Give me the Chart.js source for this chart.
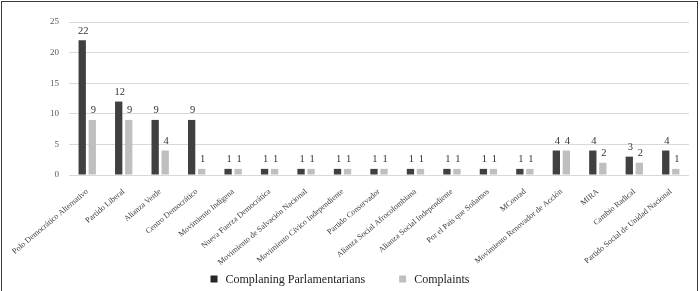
<!DOCTYPE html>
<html>
<head>
<meta charset="utf-8">
<script src="https://cdn.jsdelivr.net/npm/chart.js@4"></script>
<style>
  html, body { margin: 0; padding: 0; background: #fff; }
  #wrap {
    position: relative;
    width: 700px;
    height: 291px;
    overflow: hidden;
  }
  #frame {
    position: absolute;
    left: 1px; top: 1px;
    width: 695px; height: 300px;
    border: 1.5px solid #3a3a3a;
    pointer-events: none;
  }
  canvas { display: block; }
</style>
</head>
<body>
<div id="wrap">
  <canvas id="chart" width="700" height="291"></canvas>
  <div id="frame"></div>
</div>
<script>
// Datos
const parties = [
  "Polo Democrático Alternativo",
  "Partido Liberal",
  "Alianza Verde",
  "Centro Democrático",
  "Movimiento Indígena",
  "Nueva Fuerza Democrática",
  "Movimiento de Salvación Nacional",
  "Movimiento Cívico Independiente",
  "Partido Conservador",
  "Alianza Social Afrocolombiana",
  "Alianza Social Independiente",
  "Por el País que Soñamos",
  "MConrad",
  "Movimiento Renovador de Acción",
  "MIRA",
  "Cambio Radical",
  "Partido Social de Unidad Nacional"
];
const parlamentarians = [22, 12, 9, 9, 1, 1, 1, 1, 1, 1, 1, 1, 1, 4, 4, 3, 4];
const complaints = [9, 9, 4, 1, 1, 1, 1, 1, 1, 1, 1, 1, 1, 4, 2, 2, 1];
const yTicks = [0, 5, 10, 15, 20, 25];

const serif = "'Liberation Serif', 'DejaVu Serif', serif";

// Etiquetas encima de las barras
const barLabels = {
  id: "barLabels",
  afterDatasetsDraw(chart) {
    const ctx = chart.ctx;
    ctx.save();
    ctx.font = "10.5px " + serif;
    ctx.fillStyle = "#333";
    ctx.textAlign = "center";
    ctx.textBaseline = "bottom";
    chart.data.datasets.forEach((ds, di) => {
      chart.getDatasetMeta(di).data.forEach((bar, i) => {
        ctx.fillText(String(ds.data[i]), bar.x + 1, bar.y - 4);
      });
    });
    ctx.restore();
  }
};

// Leyenda dibujada a mano (separación como en la figura)
const bottomLegend = {
  id: "bottomLegend",
  afterDraw(chart) {
    const ctx = chart.ctx;
    const box = 7, gapText = 8, gapItem = 34;
    ctx.save();
    ctx.font = "12px " + serif;
    ctx.textBaseline = "middle";
    const items = chart.data.datasets.map((ds) => ({
      text: ds.label,
      color: ds.legendColor,
      w: box + gapText + ctx.measureText(ds.label).width
    }));
    let total = items.reduce((s, it) => s + it.w, 0) + gapItem * (items.length - 1);
    let x = 340 - total / 2;
    const y = 279;
    items.forEach((it) => {
      ctx.fillStyle = it.color;
      ctx.fillRect(x, y - box / 2, box, box);
      ctx.fillStyle = "#222";
      ctx.fillText(it.text, x + box + gapText, y + 0.5);
      x += it.w + gapItem;
    });
    ctx.restore();
  }
};

let canvas = document.getElementById("chart");
let context = canvas.getContext("2d");

let chart = new Chart(context, {
  type: "bar",
  data: {
    labels: parties,
    datasets: [
      {
        label: "Complaning Parlamentarians",
        data: parlamentarians,
        backgroundColor: "#404040",
        legendColor: "#262626",
        categoryPercentage: 0.55,
        barPercentage: 0.73
      },
      {
        label: "Complaints",
        data: complaints,
        backgroundColor: "#bfbfbf",
        legendColor: "#bfbfbf",
        categoryPercentage: 0.55,
        barPercentage: 0.73
      }
    ]
  },
  options: {
    responsive: false,
    animation: false,
    layout: { padding: { left: 0, right: 11, top: 22, bottom: 0 } },
    plugins: {
      legend: { display: false },
      tooltip: { enabled: false }
    },
    scales: {
      x: {
        grid: { display: false },
        border: { display: false },
        ticks: {
          color: "#404040",
          font: { family: serif, size: 8 },
          maxRotation: 40,
          minRotation: 40,
          autoSkip: false,
          padding: 4
        },
        afterFit: (scale) => { scale.height = 116; }
      },
      y: {
        min: 0,
        max: 25,
        afterBuildTicks: (scale) => { scale.ticks = yTicks.map((v) => ({ value: v })); },
        grid: { color: "#d9d9d9", lineWidth: 1, drawTicks: false },
        border: { display: false },
        ticks: {
          color: "#595959",
          font: { family: serif, size: 9 },
          padding: 10
        },
        afterFit: (scale) => { scale.width = 69; }
      }
    }
  },
  plugins: [barLabels, bottomLegend]
});
</script>
</body>
</html>
